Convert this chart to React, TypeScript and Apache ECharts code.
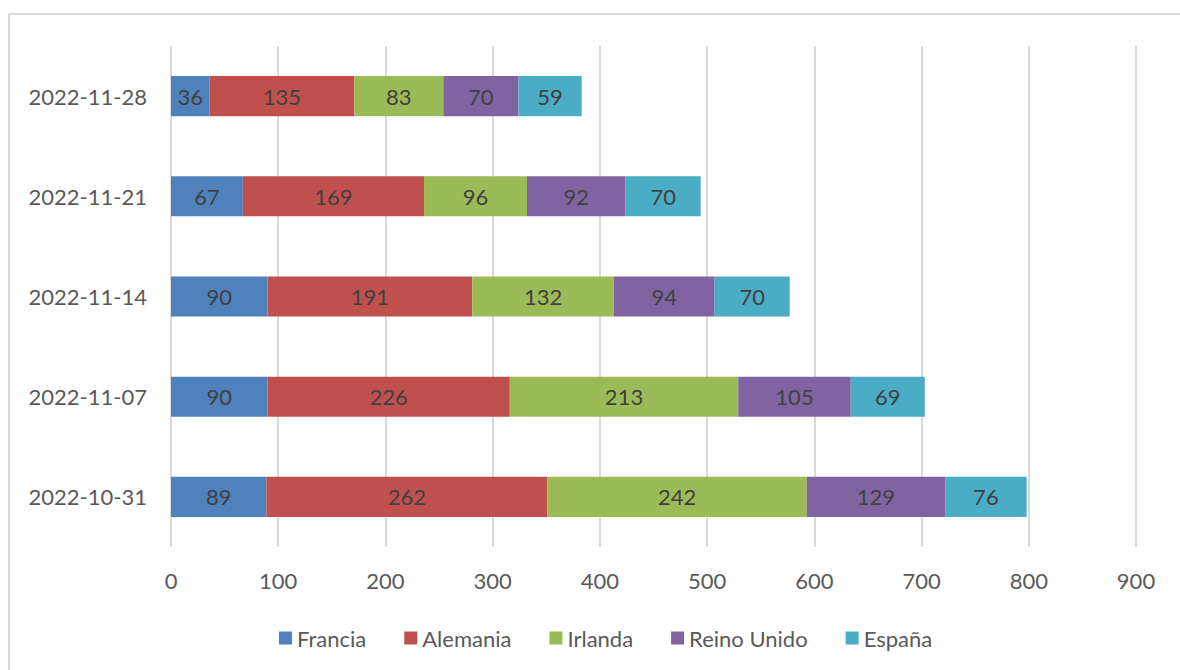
import React, { useEffect, useRef } from "react";
import * as echarts from "echarts";

const categories = ["2022-10-31", "2022-11-07", "2022-11-14", "2022-11-21", "2022-11-28"];
const francia = [89, 90, 90, 67, 36];
const alemania = [262, 226, 191, 169, 135];
const irlanda = [242, 213, 132, 96, 83];
const reinoUnido = [129, 105, 94, 92, 70];
const espana = [76, 69, 70, 70, 59];

const seriesDefs = [
  { name: "Francia", data: francia, color: "#4F81BD" },
  { name: "Alemania", data: alemania, color: "#C0504D" },
  { name: "Irlanda", data: irlanda, color: "#9BBB59" },
  { name: "Reino Unido", data: reinoUnido, color: "#8064A2" },
  { name: "España", data: espana, color: "#4BACC6" },
];

const FONT = "Lato, 'Open Sans', sans-serif";

export default function App() {
  const ref = useRef<HTMLDivElement>(null);
  useEffect(() => {
    if (!ref.current) return;
    const chart = echarts.init(ref.current, undefined, { renderer: "svg" });
    chart.setOption({
      animation: false,
      backgroundColor: "#ffffff",
      textStyle: { fontFamily: FONT },
      graphic: [
        {
          type: "rect",
          shape: { x: 9, y: 14, width: 1200, height: 700 },
          style: { fill: "none", stroke: "#d9d9d9", lineWidth: 2 },
          silent: true,
        },
      ],
      grid: { left: 171, right: 44, top: 46, bottom: 123 },
      legend: {
        bottom: 16,
        left: 274,
        itemWidth: 13,
        itemHeight: 13,
        itemGap: 38,
        icon: "rect",
        textStyle: { fontSize: 22, color: "#595959", fontFamily: FONT },
        data: seriesDefs.map((s) => s.name),
      },
      xAxis: {
        type: "value",
        min: 0,
        max: 900,
        interval: 100,
        axisLine: { show: false },
        axisTick: { show: false },
        axisLabel: { fontSize: 22, color: "#595959", margin: 22, fontFamily: FONT },
        splitLine: { lineStyle: { color: "#d9d9d9", width: 2 } },
      },
      yAxis: {
        type: "category",
        data: categories,
        axisLine: { show: false },
        axisTick: { show: false },
        axisLabel: { fontSize: 22, color: "#595959", margin: 24, fontFamily: FONT },
      },
      series: seriesDefs.map((s) => ({
        name: s.name,
        type: "bar",
        stack: "total",
        barCategoryGap: "60%",
        data: s.data,
        itemStyle: { color: s.color },
        label: {
          show: true,
          position: "inside",
          fontSize: 22,
          color: "#404040",
          fontFamily: FONT,
        },
      })),
    });
    return () => chart.dispose();
  }, []);
  return (
    <div
      ref={ref}
      style={{ position: "absolute", left: 0, top: 0, width: 1180, height: 670 }}
    />
  );
}
